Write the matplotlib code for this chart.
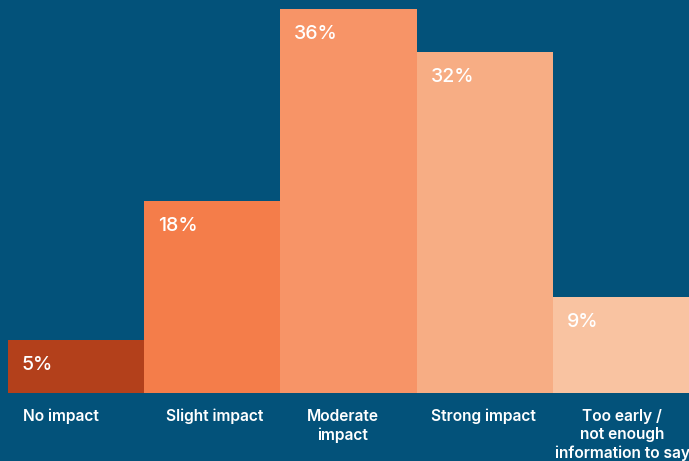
import matplotlib
matplotlib.use("Agg")
import matplotlib.pyplot as plt

categories = ["No impact", "Slight impact", "Moderate\nimpact", "Strong impact",
              "Too early /\nnot enough\ninformation to say"]
values = [5, 18, 36, 32, 9]
value_labels = ["5%", "18%", "36%", "32%", "9%"]
colors = ["#B3401B", "#F47D4A", "#F79467", "#F7AD84", "#F9C3A1"]
bg = "#03527A"

# small horizontal nudges (points) for category labels
label_dx = [-11, 1.5, -4, -1, 1]

plt.rcParams['font.family'] = ['Inter', 'DejaVu Sans']

fig = plt.figure(figsize=(6.89, 4.61), dpi=100, facecolor=bg)
ax = fig.add_axes([0, 0, 1, 1])
ax.set_facecolor(bg)

x = list(range(len(values)))
bars = ax.bar(x, values, width=1.0, color=colors, linewidth=0)

px_per_unit_x = 136.2
left = -0.5 - 8 / px_per_unit_x
ax.set_xlim(left, left + 689 / px_per_unit_x)
px_per_pct = 384 / 36
ax.set_ylim(-68 / px_per_pct, 393 / px_per_pct)

for b, lab in zip(bars, value_labels):
    ax.annotate(lab, (b.get_x(), b.get_height()), xytext=(10, -11.5),
                textcoords="offset points", ha="left", va="top",
                color="white", fontsize=14, fontweight="medium")

for xi, cat, dx in zip(x, categories, label_dx):
    ax.annotate(cat, (xi, 0), xytext=(dx, -11.5), textcoords="offset points",
                ha="center", va="top", color="white", fontsize=11.2,
                fontweight="semibold", linespacing=1.25,
                annotation_clip=False)

ax.axis("off")
fig.savefig("out.png", dpi=100, facecolor=bg)
